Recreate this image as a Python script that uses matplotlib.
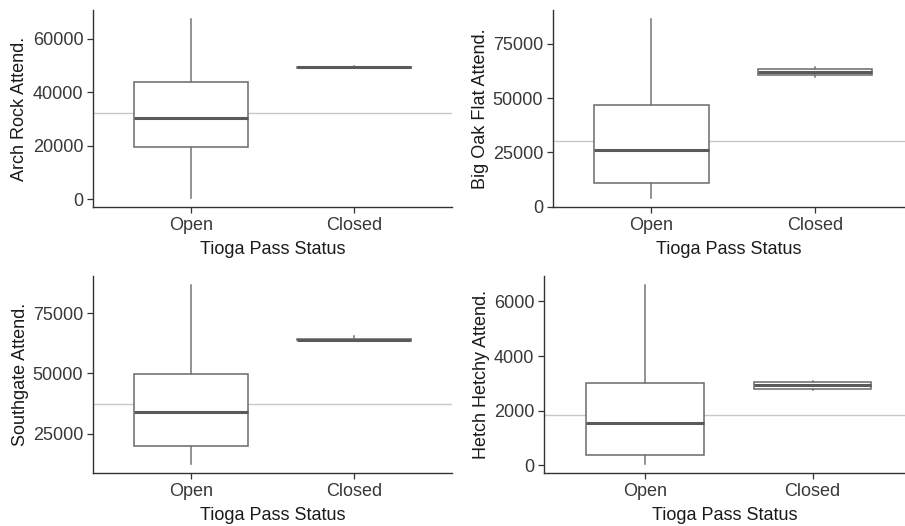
import matplotlib
matplotlib.use('Agg')
import matplotlib.pyplot as plt

plt.rcParams['font.family'] = ['Liberation Sans', 'DejaVu Sans']

groups = ['Open', 'Closed']
x_title = 'Tioga Pass Status'

# box stats per group: whisker low, Q1, median, Q3, whisker high
arch_open = [377, 19600, 30200, 43900, 67500]
arch_closed = [49250, 49250, 49400, 49550, 50000]
arch_mean = 32200
arch_ticks = [0, 20000, 40000, 60000]

bigoak_open = [4000, 10970, 26250, 46750, 86400]
bigoak_closed = [59700, 60500, 61900, 63300, 64500]
bigoak_mean = 30270
bigoak_ticks = [0, 25000, 50000, 75000]

south_open = [12300, 20000, 33900, 49900, 86850]
south_closed = [63700, 63750, 63950, 64150, 65400]
south_mean = 37140
south_ticks = [25000, 50000, 75000]

hetch_open = [37, 370, 1540, 3020, 6606]
hetch_closed = [2740, 2800, 2920, 3030, 3100]
hetch_mean = 1823
hetch_ticks = [0, 2000, 4000, 6000]

panels = [
    ('Arch Rock Attend.', arch_open, arch_closed, arch_mean, arch_ticks),
    ('Big Oak Flat Attend.', bigoak_open, bigoak_closed, bigoak_mean, bigoak_ticks),
    ('Southgate Attend.', south_open, south_closed, south_mean, south_ticks),
    ('Hetch Hetchy Attend.', hetch_open, hetch_closed, hetch_mean, hetch_ticks),
]

W, H = 905, 526
# axes boxes in pixels: left, right, top, bottom
boxes = [(93, 452, 10, 207), (553, 905, 10, 207),
         (93, 452, 276, 473), (544, 905, 276, 473)]
xlims = [(0.4, 2.6), (0.4, 2.55), (0.4, 2.6), (0.4, 2.55)]

fig = plt.figure(figsize=(W / 100, H / 100), dpi=100)

for (ylabel, s_open, s_closed, mean, ticks), (l, r, t, b), xl in zip(panels, boxes, xlims):
    ax = fig.add_axes([l / W, 1 - b / H, (r - l) / W, (b - t) / H])
    stats = []
    for name, s in zip(groups, [s_open, s_closed]):
        stats.append(dict(label=name, whislo=s[0], q1=s[1], med=s[2], q3=s[3], whishi=s[4]))

    ax.axhline(mean, color='#c8c8c8', lw=1.0, zorder=1)
    ax.bxp(stats, positions=[1, 2], widths=0.7, showcaps=False, showfliers=False,
           patch_artist=True,
           boxprops=dict(facecolor='white', edgecolor='#6a6a6a', linewidth=1.1),
           whiskerprops=dict(color='#757575', linewidth=1.1),
           medianprops=dict(color='#5a5a5a', linewidth=2.2),
           zorder=2)

    lo = min(s_open[0], s_closed[0])
    hi = max(s_open[4], s_closed[4])
    pad = 0.05 * (hi - lo)
    ax.set_ylim(lo - pad, hi + pad)
    ax.set_xlim(*xl)
    ax.set_yticks(ticks)
    ax.set_yticklabels([str(v) for v in ticks])
    ax.set_xticks([1, 2])
    ax.set_xticklabels(groups)

    for side in ['top', 'right']:
        ax.spines[side].set_visible(False)
    for side in ['left', 'bottom']:
        ax.spines[side].set_color('#333333')
        ax.spines[side].set_linewidth(1.0)
    ax.tick_params(length=4, width=0.9, color='#333333', labelsize=13,
                   labelcolor='#383838', pad=3)
    ax.set_xlabel(x_title, fontsize=13, color='#1a1a1a', labelpad=5)
    ax.set_ylabel(ylabel, fontsize=13, color='#1a1a1a', labelpad=3)

fig.savefig('out.png', dpi=100)
